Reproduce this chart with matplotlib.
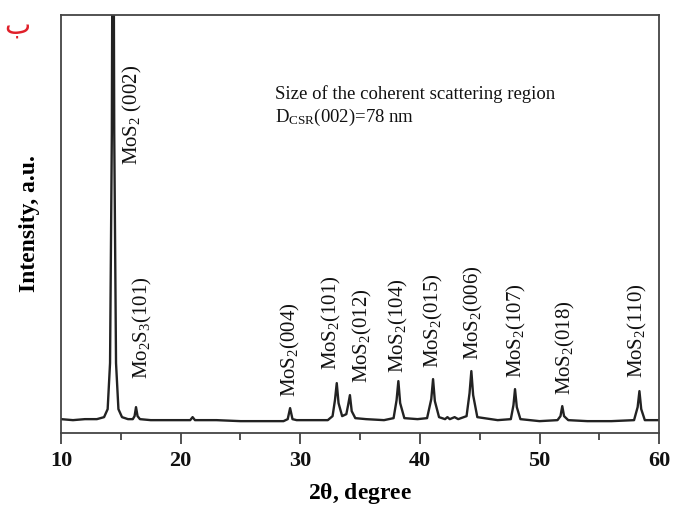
import numpy as np
import matplotlib
matplotlib.use('Agg')
import matplotlib.pyplot as plt
from matplotlib.ticker import MultipleLocator

plt.rcParams['font.family'] = 'Liberation Serif'
plt.rcParams['mathtext.fontset'] = 'custom'
plt.rcParams['mathtext.rm'] = 'Liberation Serif'
plt.rcParams['mathtext.it'] = 'Liberation Serif:italic'
plt.rcParams['mathtext.bf'] = 'Liberation Serif:bold'

# XRD pattern (2theta in degrees, intensity in arbitrary units)
two_theta = [10.0, 11.0, 12.0, 13.0, 13.6, 13.9, 14.1, 14.25, 14.35, 14.45, 14.6, 14.8, 15.1, 15.6,
             16.0, 16.15, 16.27, 16.4, 16.6, 17.5, 19.0, 20.8, 21.0, 21.2, 23.0, 25.0, 27.0,
             28.6, 28.95, 29.15, 29.35, 29.7, 31.0, 32.3, 32.7, 32.9, 33.05, 33.2, 33.5,
             33.85, 34.0, 34.15, 34.3, 34.6, 35.5, 37.0, 37.8, 38.05, 38.2, 38.35, 38.7,
             39.8, 40.6, 40.95, 41.1, 41.25, 41.6, 42.1, 42.3, 42.5, 42.9, 43.2, 43.9,
             44.15, 44.3, 44.45, 44.8, 46.5, 47.6, 47.82, 47.95, 48.1, 48.4, 50.0, 51.5,
             51.75, 51.9, 52.05, 52.4, 54.0, 56.0, 57.9, 58.2, 58.35, 58.5, 58.8, 60.0]
intensity = [14, 13, 14, 14, 16, 24, 70, 300, 700, 300, 70, 24, 16, 14,
             14, 17, 26, 17, 14, 13, 13, 13, 16, 13, 13, 12, 12,
             12, 14, 25, 14, 13, 13, 13, 17, 33, 50, 30, 17,
             19, 28, 38, 22, 15, 14, 13, 15, 33, 52, 30, 15,
             14, 15, 34, 54, 32, 16, 14, 16, 14, 16, 14, 17,
             40, 62, 38, 16, 13, 14, 28, 44, 26, 14, 12, 13,
             17, 27, 17, 13, 12, 12, 13, 26, 42, 24, 13, 13]

# peak labels: text, x position, bottom of label
peak_labels = [r'MoS$_2$ (002)', r'Mo$_2$S$_3$(101)', r'MoS$_2$(004)', r'MoS$_2$(101)',
               r'MoS$_2$(012)', r'MoS$_2$(104)', r'MoS$_2$(015)', r'MoS$_2$(006)',
               r'MoS$_2$(107)', r'MoS$_2$(018)', r'MoS$_2$(110)']
label_x = [16.0, 16.8, 29.15, 32.6, 35.2, 38.25, 41.1, 44.45, 48.1, 52.2, 58.15]
label_y = [268, 54, 36, 63, 50, 60, 65, 73, 55, 38, 55]

fig = plt.figure(figsize=(6.74, 5.12), dpi=100)
ax = fig.add_axes([0.0905, 0.154, 0.8875, 0.817])

ax.plot(two_theta, intensity, color='#222222', lw=1.7)

for txt, x, y in zip(peak_labels, label_x, label_y):
    ax.text(x, y, txt, rotation=90, ha='center', va='bottom', fontsize=15, color='#111111')

ax.text(27.9, 339, 'Size of the coherent scattering region', fontsize=13.5, va='center', color='#111111')
ax.text(27.9, 315, r'D$_{\mathrm{CSR}}$(002)=78 nm', fontsize=13.5, va='center', color='#111111')

ax.set_xlim(10, 60)
ax.set_ylim(0, 418)
ax.xaxis.set_major_locator(MultipleLocator(10))
ax.xaxis.set_minor_locator(MultipleLocator(5))
ax.set_yticks([])
ax.tick_params(axis='x', which='major', direction='out', length=8, width=1.2, colors='#333333',
               labelsize=16, labelcolor='#111111', pad=5)
ax.tick_params(axis='x', which='minor', direction='out', length=5, width=1.2, colors='#333333')
for lab in ax.get_xticklabels():
    lab.set_fontweight('bold')
for sp in ax.spines.values():
    sp.set_color('#444444')
    sp.set_linewidth(1.3)

ax.set_xlabel(r'2$\mathbf{\theta}$, degree', fontsize=17, fontweight='bold', labelpad=7)
ax.set_ylabel('Intensity, a.u.', fontsize=17, fontweight='bold', labelpad=15)

fig.text(0.025, 0.95, 'ب', color='#e0202a', fontsize=20, family='DejaVu Sans', ha='center', va='center')

fig.savefig('out.png', dpi=100)
